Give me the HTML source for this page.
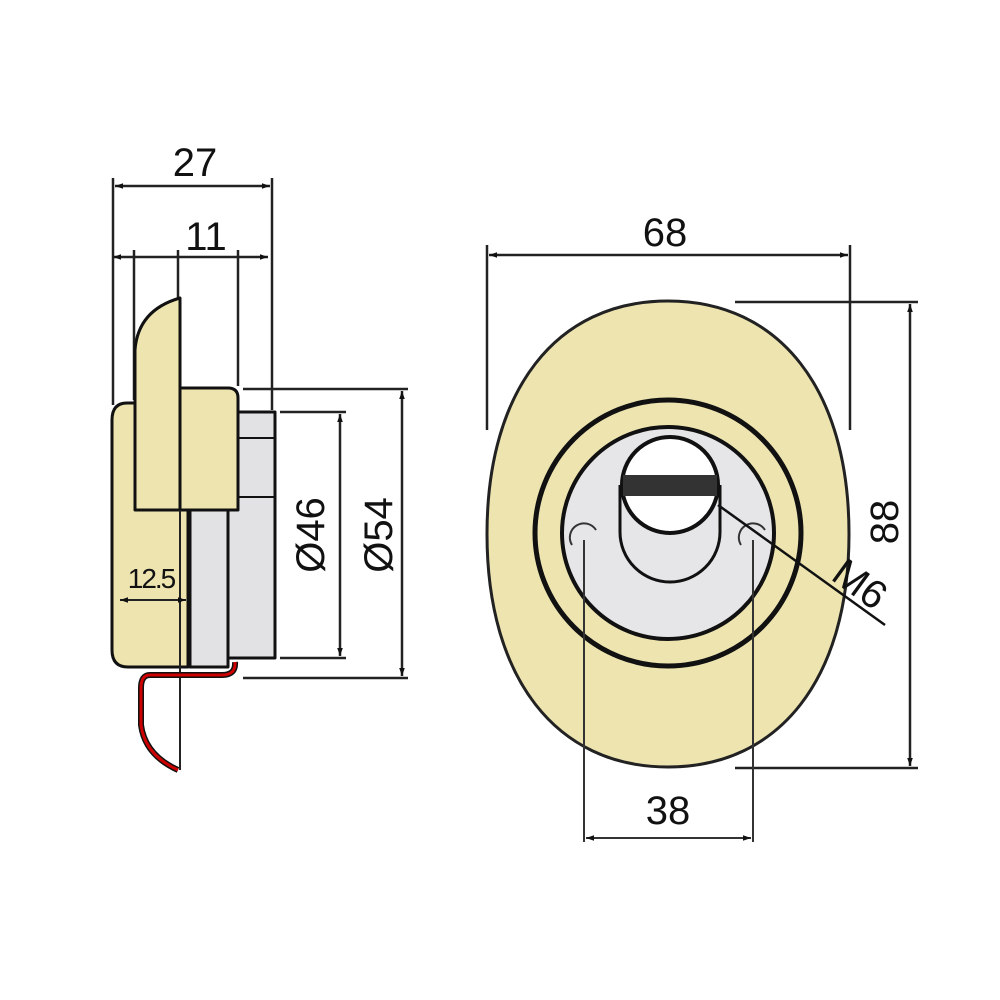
<!DOCTYPE html>
<html><head><style>html,body{margin:0;padding:0;background:#fff}svg{display:block}</style></head>
<body>
<svg width="1000" height="1000" viewBox="0 0 1000 1000" xmlns="http://www.w3.org/2000/svg" font-family="Liberation Sans, Arial, sans-serif">
<defs>
<marker id="a" viewBox="0 0 10 10" refX="10" refY="5" markerWidth="10" markerHeight="8" orient="auto-start-reverse" markerUnits="userSpaceOnUse"><path d="M0,1.5 L10,5 L0,8.5 z" fill="#111"/></marker>
</defs>
<g stroke="#222" stroke-width="2.5" fill="none">
<line x1="113" y1="178" x2="113" y2="405"/>
<line x1="272" y1="178" x2="272" y2="410"/>
<line x1="134" y1="250" x2="134" y2="400"/>
<line x1="178" y1="250" x2="178" y2="300"/>
<line x1="238" y1="250" x2="238" y2="386"/>
<line x1="115" y1="186" x2="270" y2="186" marker-start="url(#a)" marker-end="url(#a)"/>
<line x1="113" y1="257" x2="268" y2="257" marker-start="url(#a)" marker-end="url(#a)"/>
<line x1="243" y1="389" x2="408" y2="389"/>
<line x1="280" y1="412" x2="346" y2="412"/>
<line x1="280" y1="658" x2="346" y2="658"/>
<line x1="243" y1="678" x2="408" y2="678"/>
<line x1="340" y1="414" x2="340" y2="656" marker-start="url(#a)" marker-end="url(#a)"/>
<line x1="402" y1="391" x2="402" y2="676" marker-start="url(#a)" marker-end="url(#a)"/>
</g>
<g stroke="#111" stroke-width="3" stroke-linejoin="round">
<path d="M127,403 L188,403 L188,667 L128,667 Q112,667 112,650 L112,420 Q112,403 127,403 Z" fill="#ede4b0"/>
<rect x="190" y="510" width="38" height="157" fill="#e2e2e4"/>
<path d="M228,412 L275,412 L275,658 L228,658 Z" fill="#e2e2e4"/>
<line x1="238" y1="438" x2="275" y2="438" stroke-width="2"/>
<line x1="238" y1="497" x2="275" y2="497" stroke-width="2"/>
<path d="M180,388 L228,388 Q238,388 238,398 L238,510 L180,510 Z" fill="#ede4b0"/>
<path d="M180,298 L180,510 L135,510 L135,350 Q138,310 180,298 Z" fill="#ede4b0"/>
</g>
<line x1="180" y1="510" x2="180" y2="770" stroke="#222" stroke-width="2"/>
<path d="M235,662 Q236,675 222,675 L150,675 Q141,675 141,688 L141,725 Q145,755 178,770" fill="none" stroke="#111" stroke-width="6"/>
<path d="M235,662 Q236,675 222,675 L150,675 Q141,675 141,688 L141,725 Q145,755 178,770" fill="none" stroke="#c00" stroke-width="3"/>
<line x1="120" y1="600" x2="186" y2="600" stroke="#222" stroke-width="2" marker-start="url(#a)" marker-end="url(#a)"/>
<text x="151" y="588" font-size="28" text-anchor="middle" fill="#111" letter-spacing="-2">12.5</text>
<text x="195" y="176" font-size="40" text-anchor="middle" fill="#111">27</text>
<text x="206" y="250" font-size="40" text-anchor="middle" fill="#111">11</text>
<text transform="translate(324,535) rotate(-90)" font-size="40" text-anchor="middle" fill="#111">Ø46</text>
<text transform="translate(392,535) rotate(-90)" font-size="40" text-anchor="middle" fill="#111">Ø54</text>

<g stroke="#222" stroke-width="2.5" fill="none">
<line x1="487" y1="245" x2="487" y2="430"/>
<line x1="850" y1="245" x2="850" y2="430"/>
<line x1="489" y1="255" x2="848" y2="255" marker-start="url(#a)" marker-end="url(#a)"/>
<line x1="735" y1="302" x2="918" y2="302"/>
<line x1="735" y1="768" x2="918" y2="768"/>
<line x1="910" y1="304" x2="910" y2="766" marker-start="url(#a)" marker-end="url(#a)"/>
</g>
<path d="M668,301 C780,301 849,390 849,534 C849,678 780,767 668,767 C556,767 487,678 487,534 C487,390 556,301 668,301Z" fill="#ede4b0" stroke="#222" stroke-width="3"/>
<circle cx="668" cy="533" r="133" fill="none" stroke="#111" stroke-width="5"/>
<circle cx="668" cy="533" r="106" fill="#e6e6e8" stroke="#111" stroke-width="4"/>
<path d="M620,485 L620,532 A50,50 0 0 0 720,532 L720,485" fill="none" stroke="#111" stroke-width="3"/>
<circle cx="670" cy="485" r="48" fill="#fff" stroke="#111" stroke-width="4"/>
<rect x="623" y="475" width="94" height="21" fill="#333"/>
<g stroke="#333" stroke-width="2" fill="none">
<path d="M572,545 A14,14 0 0 1 596,530"/>
<path d="M741,545 A14,14 0 0 1 765,530"/>
<line x1="584" y1="540" x2="584" y2="842"/>
<line x1="753" y1="540" x2="753" y2="842"/>
<line x1="586" y1="838" x2="751" y2="838" marker-start="url(#a)" marker-end="url(#a)"/>
<line x1="718" y1="505" x2="885" y2="625" stroke="#111" stroke-width="2.5"/>
</g>
<text x="665" y="246" font-size="40" text-anchor="middle" fill="#111">68</text>
<text x="668" y="824" font-size="40" text-anchor="middle" fill="#111">38</text>
<text transform="translate(898,522) rotate(-90)" font-size="40" text-anchor="middle" fill="#111">88</text>
<text transform="translate(852,595) rotate(36)" font-size="40" text-anchor="middle" fill="#111">M6</text>
</svg>
</body></html>
